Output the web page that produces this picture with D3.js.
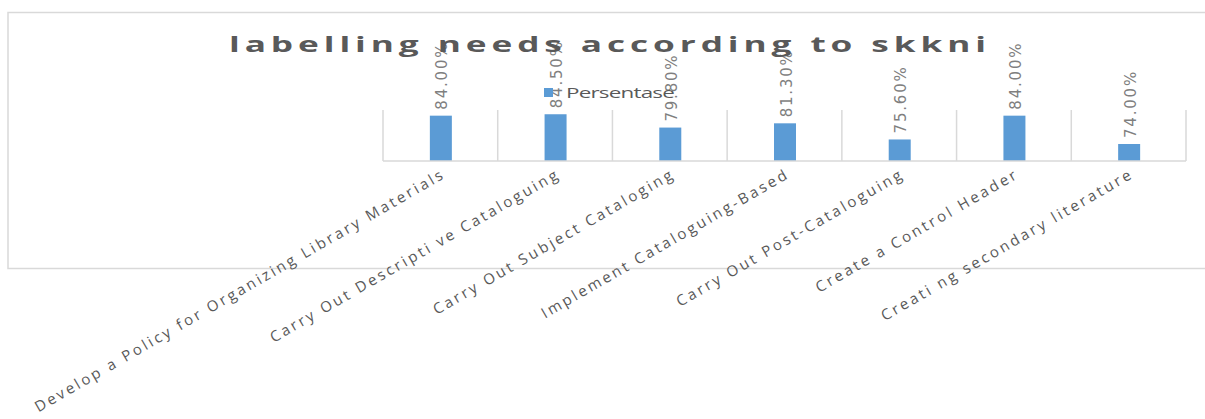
<!DOCTYPE html>
<html>
<head>
<meta charset="utf-8">
<script src="https://cdn.jsdelivr.net/npm/d3@7"></script>
<style>
  body { margin: 0; background: #fff; }
  svg { display: block; }
</style>
</head>
<body>
<script>
// data
var categories = [
  'Develop a Policy for Organizing Library Materials',
  'Carry Out Descripti ve Cataloguing',
  'Carry Out Subject Cataloging',
  'Implement Cataloguing-Based',
  'Carry Out Post-Cataloguing',
  'Create a Control Header',
  'Creati ng secondary literature'
];
var persentase = [84.0, 84.5, 79.8, 81.3, 75.6, 84.0, 74.0];
var seriesName = 'Persentase';
var chartTitle = 'labelling needs according to skkni';

// settings
var W = 1205, H = 419;
var plot = { left: 383, right: 1186, top: 110, bottom: 161 };
var stretch = 1.6; // the text in the picture is drawn wide

var svg = d3.select('body').append('svg')
  .attr('width', W).attr('height', H);

// spread the letters of a text out so it covers a given length
function fitSpacing(sel, target) {
  sel.each(function() {
    var node = this;
    var n = node.textContent.length;
    var natural = node.getComputedTextLength();
    d3.select(node).attr('letter-spacing', ((target - natural) / n) + 'px');
  });
}

// chart border
svg.append('rect')
  .attr('x', 8).attr('y', 12.5)
  .attr('width', 1210).attr('height', 256)
  .attr('fill', 'none')
  .attr('stroke', '#d9d9d9')
  .attr('stroke-width', 1.5);

var x = d3.scaleBand()
  .domain(categories)
  .range([plot.left, plot.right])
  .paddingInner(0).paddingOuter(0);

var y = d3.scaleLinear()
  .domain([68, 86])
  .range([plot.bottom, plot.top]);

// vertical gridlines between categories
var edges = categories.map(function(c) { return x(c); }).concat([plot.right]);
svg.append('g').selectAll('line')
  .data(edges)
  .enter().append('line')
  .attr('x1', function(d) { return d; }).attr('x2', function(d) { return d; })
  .attr('y1', plot.top).attr('y2', plot.bottom)
  .attr('stroke', '#d9d9d9').attr('stroke-width', 1.5);

// bars
var barW = 22;
svg.append('g').selectAll('rect')
  .data(persentase)
  .enter().append('rect')
  .attr('x', function(d, i) { return x(categories[i]) + x.bandwidth() / 2 - barW / 2 + 0.5; })
  .attr('y', function(d) { return y(d); })
  .attr('width', barW)
  .attr('height', function(d) { return y(68) - y(d); })
  .attr('fill', '#5b9bd5');

// category axis line
svg.append('line')
  .attr('x1', plot.left).attr('x2', plot.right)
  .attr('y1', plot.bottom).attr('y2', plot.bottom)
  .attr('stroke', '#d9d9d9').attr('stroke-width', 1.5);

// category labels
var catLabels = svg.append('g').selectAll('text')
  .data(categories)
  .enter().append('text')
  .attr('transform', function(d) {
    return 'translate(' + (x(d) + x.bandwidth() / 2 + 6) + ',' + 177 + ') rotate(-30)';
  })
  .attr('text-anchor', 'end')
  .attr('font-family', 'Open Sans')
  .attr('font-size', 15)
  .attr('fill', '#595959')
  .text(function(d) { return d; });
var spacing = null;
catLabels.each(function(d, i) {
  if (i === 0) {
    var n = this.textContent.length;
    spacing = (471 - this.getComputedTextLength()) / n;
  }
});
catLabels.attr('letter-spacing', spacing + 'px');

// data labels
var dataLabels = svg.append('g').selectAll('text')
  .data(persentase)
  .enter().append('text')
  .attr('transform', function(d, i) {
    return 'translate(' + (x(categories[i]) + x.bandwidth() / 2 + 7) + ',' + (y(d) - 6) + ') rotate(-90)';
  })
  .attr('text-anchor', 'start')
  .attr('font-family', 'DejaVu Sans')
  .attr('font-size', 15)
  .attr('fill', '#7f7f7f')
  .text(function(d) { return d.toFixed(2) + '%'; });
fitSpacing(dataLabels, 68);

// legend
svg.append('rect')
  .attr('x', 544).attr('y', 88)
  .attr('width', 9).attr('height', 9)
  .attr('fill', '#5b9bd5');
var legendText = svg.append('g')
  .attr('transform', 'translate(566,98) scale(' + stretch + ',1)')
  .append('text')
  .attr('font-family', 'Open Sans')
  .attr('font-size', 14)
  .attr('fill', '#595959')
  .text(seriesName);
fitSpacing(legendText, 108 / stretch);

// title
var title = svg.append('g')
  .attr('transform', 'translate(229,52) scale(' + stretch + ',1)')
  .append('text')
  .attr('font-family', 'Open Sans')
  .attr('font-weight', 'bold')
  .attr('font-size', 22)
  .attr('fill', '#595959')
  .text(chartTitle);
fitSpacing(title, 762 / stretch);
</script>
</body>
</html>
